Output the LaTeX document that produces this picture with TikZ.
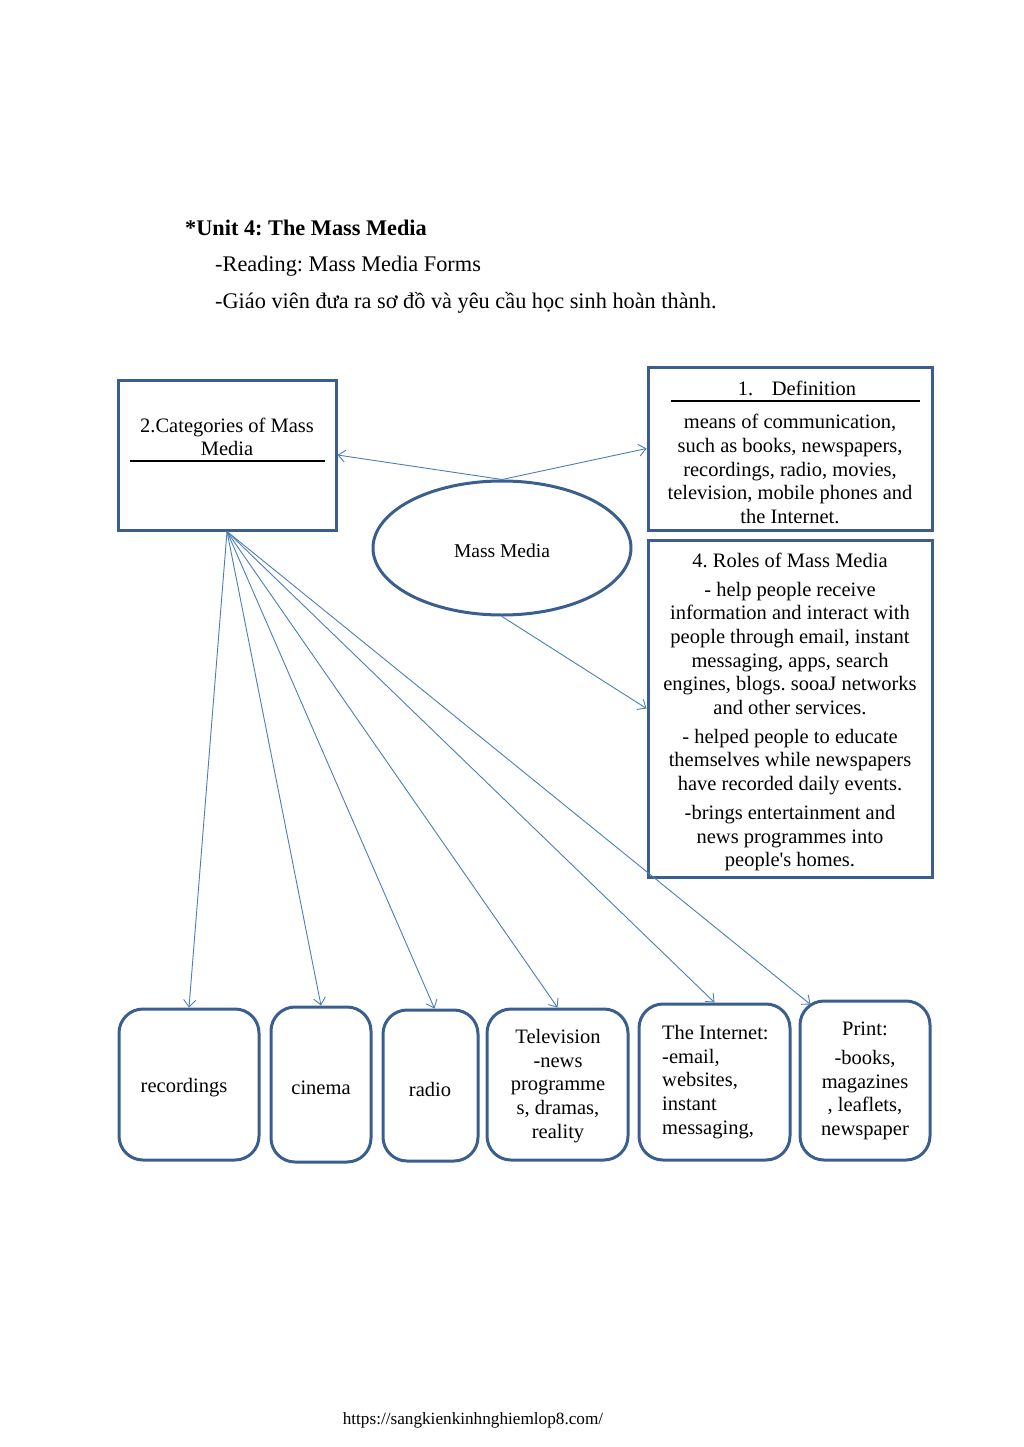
\documentclass[tikz,border=0pt]{standalone}
\usepackage{fontspec}
\setmainfont{Liberation Serif}
\usetikzlibrary{shapes.geometric,arrows.meta}
\definecolor{boxblue}{HTML}{3A5F8E}
\definecolor{linkblue}{HTML}{4A7EBB}
\frenchspacing

\begin{document}
\begin{tikzpicture}[x=1pt, y=-1pt,
squarednode/.style={rectangle, draw=boxblue, line width=3pt, inner sep=0pt},
roundednode/.style={rectangle, rounded corners=24pt, draw=boxblue, line width=3pt, inner sep=0pt},
ovalnode/.style={ellipse, draw=boxblue, line width=3pt, minimum width=258pt, minimum height=134pt, inner sep=0pt},
boxtext/.style={align=center, inner sep=0pt, font=\fontsize{20.5}{23.7}\selectfont},
headtext/.style={anchor=base west, inner sep=0pt, font=\fontsize{22.3}{26}\selectfont},
link/.style={draw=linkblue, line width=0.9pt, -{Straight Barb[length=7pt,width=12pt]}},
rule/.style={draw=black, line width=2pt},
]
\useasboundingbox (0,0) rectangle (1023,1447);

%Header
\node[headtext] (unit)    at (185,236) {\bfseries *Unit 4: The Mass Media};
\node[headtext] (reading) at (215,272) {-Reading: Mass Media Forms};
\node[headtext] (task)    at (215,308) {-Giáo viên đưa ra sơ đồ và yêu cầu học sinh hoàn thành.};

%Boxes
\node[squarednode, minimum width=218pt, minimum height=150pt] (cat)   at (227,455)   {};
\node[squarednode, minimum width=284pt, minimum height=163pt] (def)   at (790,448.5) {};
\node[squarednode, minimum width=284pt, minimum height=337pt] (roles) at (790,708.5) {};
\node[ovalnode] (media) at (502,548) {};

\node[boxtext] (cattitle)  at (227,437) {2.Categories of Mass\\Media};
\node[boxtext] (deftitle)  at (797,388) {1.\hspace{0.9em}Definition};
\node[boxtext] (deftext)   at (790,469) {means of communication,\\such as books, newspapers,\\recordings, radio, movies,\\television, mobile phones and\\the Internet.};
\node[boxtext] (rolestext) at (790,712) {4. Roles of Mass Media\\[5pt]- help people receive\\information and interact with\\people through email, instant\\messaging, apps, search\\engines, blogs. sooaJ networks\\and other services.\\[5pt]- helped people to educate\\themselves while newspapers\\have recorded daily events.\\[5pt]-brings entertainment and\\news programmes into\\people\textquotesingle s homes.};
\node[boxtext, font=\fontsize{19.5}{23}\selectfont] (medialabel) at (502,551) {Mass Media};

\draw[rule] (130,461) -- (325,461);
\draw[rule] (671,401) -- (920,401);

%Categories
\node[roundednode, minimum width=140pt, minimum height=151pt] (recordings) at (189,1084.5)  {};
\node[roundednode, minimum width=100pt, minimum height=155pt] (cinema)     at (321,1084.5)  {};
\node[roundednode, minimum width=95pt,  minimum height=151pt] (radio)      at (430.5,1085.5) {};
\node[roundednode, minimum width=141pt, minimum height=151pt] (tv)         at (557.5,1084.5) {};
\node[roundednode, minimum width=151pt, minimum height=156pt] (internet)   at (714.5,1082)  {};
\node[roundednode, minimum width=130pt, minimum height=159pt] (print)      at (865,1080.5)  {};

\node[boxtext] (recordingstext) at (184,1088) {recordings};
\node[boxtext] (cinematext)     at (321,1088) {cinema};
\node[boxtext] (radiotext)      at (430,1089) {radio};
\node[boxtext] (tvtext)         at (558,1086) {Television\\-news\\programme\\s, dramas,\\reality};
\node[boxtext, align=left, anchor=west] (internettext) at (662,1082) {The Internet:\\-email,\\websites,\\instant\\messaging,};
\node[boxtext] (printtext)      at (865,1081) {Print:\\[5pt]-books,\\magazines\\, leaflets,\\newspaper};

%Footer
\node[inner sep=0pt, font=\fontsize{17.2}{20}\selectfont] (url) at (473,1420) {https://sangkienkinhnghiemlop8.com/};

%Lines
\draw[link] (media.north) -- (cat.east);
\draw[link] (media.north) -- (def.west);
\draw[link] (media.south) -- (roles.west);
\draw[link] (cat.south) -- (recordings.north);
\draw[link] (cat.south) -- (cinema.north);
\draw[link] (cat.south) -- ([xshift=4pt]radio.north);
\draw[link] (cat.south) -- (tv.north);
\draw[link] (cat.south) -- (internet.north);
\draw[link] (cat.south) -- ([xshift=12pt,yshift=-5pt]print.north west);
\end{tikzpicture}
\end{document}
